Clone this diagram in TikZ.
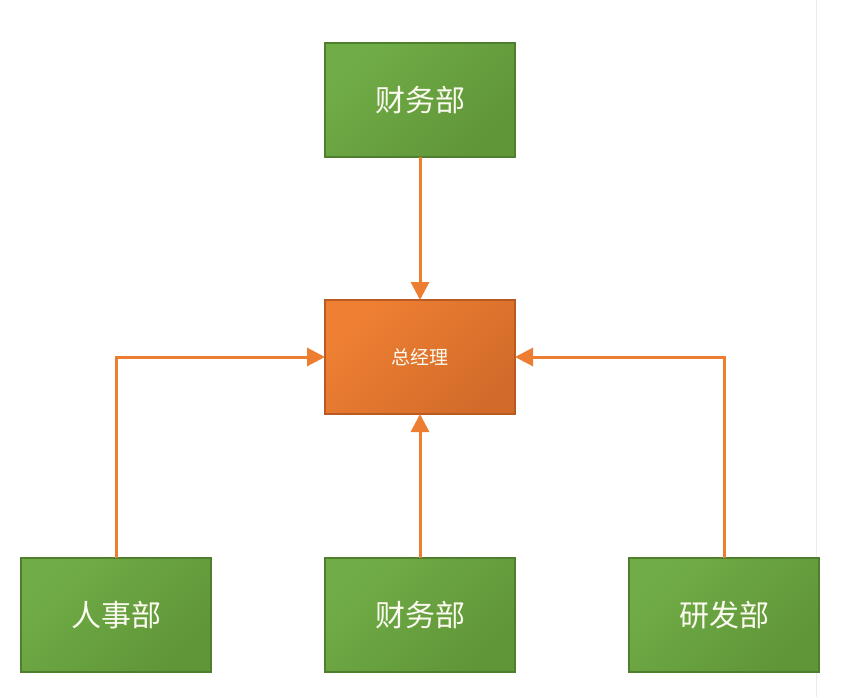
\documentclass[tikz,border=0pt]{standalone}
\usepackage{fontspec}
\newfontfamily\cjkfont{Noto Sans CJK SC}
\usetikzlibrary{arrows.meta, positioning}
\definecolor{greenlight}{HTML}{70AD47}
\definecolor{greendark}{HTML}{609538}
\definecolor{greenedge}{HTML}{4F7F2E}
\definecolor{orangelight}{HTML}{EF8033}
\definecolor{orangedark}{HTML}{D26B2A}
\definecolor{orangeedge}{HTML}{B95A22}
\definecolor{linkorange}{HTML}{ED7D31}
\definecolor{labelwhite}{HTML}{FBFAF0}
\tikzset{
    deptbox/.style={rectangle, minimum width=190pt, minimum height=114pt, outer sep=0pt, draw=greenedge, line width=1.5pt, top color=greenlight, bottom color=greendark, shading angle=45, text=labelwhite, font=\cjkfont\fontsize{30}{36}\selectfont},
    bossbox/.style={rectangle, minimum width=190pt, minimum height=114pt, outer sep=0pt, draw=orangeedge, line width=1.5pt, top color=orangelight, bottom color=orangedark, shading angle=45, text=labelwhite, font=\cjkfont\fontsize{19}{23}\selectfont},
    linkarrow/.style={-{Triangle[length=18pt,width=18pt]}, line width=3pt, linkorange},
}

\begin{document}
\begin{tikzpicture}[x=1pt,y=1pt]
\useasboundingbox (0,0) rectangle (858,697);
\draw[black!8,line width=1pt] (816,0) -- (816,697);

\node[bossbox] (boss) at (420,340) {总经理};
\node[deptbox,above=143pt of boss] (finance) {财务部};
\node[deptbox,below=144pt of boss] (financelow) {财务部};
\node[deptbox,left=114pt of financelow] (hr) {人事部};
\node[deptbox,right=114pt of financelow] (rnd) {研发部};

\draw[linkarrow] (finance) -- (boss);
\draw[linkarrow] (hr) |- (boss);
\draw[linkarrow] (financelow) -- (boss);
\draw[linkarrow] (rnd) |- (boss);
\end{tikzpicture}
\end{document}
